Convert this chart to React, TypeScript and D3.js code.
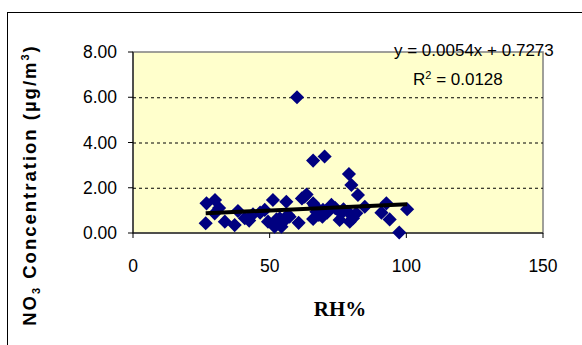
import React from 'react';
import * as d3 from 'd3';

// RH% vs NO3 concentration
const rhValues = [
  26.9, 30.0, 26.6, 29.9, 31.5, 33.6, 37.2, 38.4, 40.9, 42.5, 43.9, 46.5, 48.2, 49.4,
  51.2, 51.8, 52.5, 53.7, 54.3, 55.0, 56.1, 56.7, 57.3, 60.0, 60.6, 61.8, 62.8, 63.5,
  65.9, 70.1, 65.9, 66.5, 67.1, 65.9, 68.0, 69.3, 69.5, 71.0, 72.6, 74.0, 75.6, 76.2,
  77.0, 78.6, 79.0, 79.9, 79.3, 80.5, 81.7, 82.3, 84.8, 90.9, 92.7, 93.9, 97.4, 100.3,
];
const no3Values = [
  1.31, 1.46, 0.43, 0.87, 1.1, 0.5, 0.35, 0.97, 0.65, 0.55, 0.83, 0.9, 1.02, 0.5,
  1.46, 0.28, 0.6, 0.65, 0.28, 0.5, 1.38, 0.8, 0.72, 6.0, 0.45, 1.53, 1.61, 1.7,
  3.2, 3.38, 1.31, 1.2, 0.94, 0.62, 0.8, 0.72, 1.02, 0.9, 1.24, 1.1, 0.58, 0.87,
  1.05, 0.94, 2.61, 2.12, 0.5, 0.65, 0.87, 1.68, 1.16, 0.9, 1.31, 0.6, 0.02, 1.05,
];
const xTicks = [0, 50, 100, 150];
const yTicks = [0, 2, 4, 6, 8];
const slope = 0.0054;
const intercept = 0.7273;

const sans = '"Liberation Sans", Arial, sans-serif';
const serif = '"Liberation Serif", "Times New Roman", serif';

export default function App() {
  const plot = { left: 133, right: 543, top: 52, bottom: 233 };
  const x = d3.scaleLinear().domain([0, 150]).range([plot.left, plot.right]);
  const y = d3.scaleLinear().domain([0, 8]).range([plot.bottom, plot.top]);

  const points = rhValues.map((v, i) => ({ rh: v, no3: no3Values[i] }));
  const [xMin, xMax] = d3.extent(rhValues) as [number, number];
  const trend = d3.line<number>()
    .x(d => x(d))
    .y(d => y(slope * d + intercept));

  const diamond = d3.symbol().type(d3.symbolSquare).size(100)();

  return (
    <svg width={582} height={345} style={{ position: 'absolute', left: 0, top: 0 }}>
      <rect x={0} y={0} width={582} height={345} fill="#fff" />
      <rect x={7.5} y={12.5} width={600} height={400} fill="none" stroke="#000" />

      {/* plot area */}
      <rect x={plot.left} y={plot.top} width={plot.right - plot.left} height={plot.bottom - plot.top}
        fill="#FFFFCC" stroke="#808080" strokeWidth={1.5} />

      {/* grid */}
      {yTicks.filter(t => t > 0 && t < 8).map(t => (
        <line key={t} x1={plot.left} x2={plot.right} y1={y(t) + 0.5} y2={y(t) + 0.5}
          stroke="#000" strokeDasharray="3,3" />
      ))}

      {/* axes */}
      <line x1={plot.left} x2={plot.left} y1={plot.top} y2={plot.bottom} stroke="#000" />
      <line x1={plot.left} x2={plot.right} y1={plot.bottom} y2={plot.bottom} stroke="#000" />
      {yTicks.map(t => (
        <g key={t}>
          <line x1={plot.left - 5} x2={plot.left} y1={y(t)} y2={y(t)} stroke="#000" />
          <text x={117} y={y(t)} dy="0.35em" textAnchor="end" fontFamily={sans} fontSize={17.5}>
            {t.toFixed(2)}
          </text>
        </g>
      ))}
      {xTicks.map(t => (
        <g key={t}>
          <line x1={x(t)} x2={x(t)} y1={plot.bottom} y2={plot.bottom + 5} stroke="#000" />
          <text x={x(t)} y={272} textAnchor="middle" fontFamily={sans} fontSize={17.5}>{t}</text>
        </g>
      ))}

      {/* points */}
      {points.map((p, i) => (
        <path key={i} d={diamond ?? ''} fill="#000080"
          transform={`translate(${x(p.rh)},${y(p.no3)}) rotate(45)`} />
      ))}

      {/* trendline */}
      <path d={trend([xMin, xMax]) ?? ''} fill="none" stroke="#000" strokeWidth={4} />

      {/* equation */}
      <text x={394} y={56} fontFamily={sans} fontSize={17}>y = 0.0054x + 0.7273</text>
      <text x={413} y={85} fontFamily={sans} fontSize={17}>
        R<tspan dy={-6} fontSize={11}>2</tspan><tspan dy={6}> = 0.0128</tspan>
      </text>

      {/* axis titles */}
      <text x={340} y={316} textAnchor="middle" fontFamily={serif} fontWeight="bold" fontSize={21}>RH%</text>
      <text transform="translate(36,185) rotate(-90)" textAnchor="middle" fontFamily={sans}
        fontWeight="bold" fontSize={18.5} letterSpacing={2}>
        NO<tspan dy={4} fontSize={11}>3</tspan><tspan dy={-4}> Concentration (µg/m</tspan>
        <tspan dy={-7} fontSize={11}>3</tspan><tspan dy={7}>)</tspan>
      </text>
    </svg>
  );
}
